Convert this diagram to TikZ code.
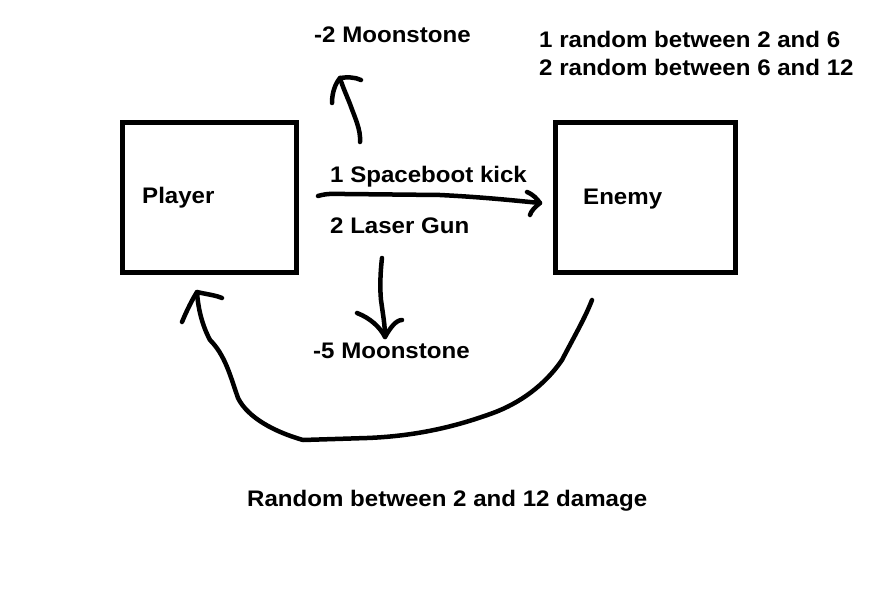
\documentclass[tikz,border=0pt]{standalone}
\usepackage{fontspec}
\newfontfamily\lblfont{Liberation Sans}[FakeStretch=1.07]
\begin{document}
\begin{tikzpicture}[x=1pt,y=-1pt,
  ink/.style={line width=4.5pt,line cap=round,line join=round,black},
  boxshape/.style={draw,line width=5pt,minimum width=174pt,minimum height=150pt,inner sep=0pt},
  lbl/.style={anchor=base west,inner sep=0pt,font=\lblfont\bfseries\fontsize{22.5}{28}\selectfont,text=black}]
\useasboundingbox (0,0) rectangle (894,605);
% boxes
\node[boxshape] (player) at (209,197) {};
\node[boxshape,minimum width=180pt] (enemy) at (645,197) {};
% texts
\node[lbl] (tplayer) at (142,203) {Player};
\node[lbl] (tenemy) at (583,204) {Enemy};
\node[lbl] (tm2) at (314,42) {-2 Moonstone};
\node[lbl] (tr1) at (539,47) {1 random between 2 and 6};
\node[lbl] (tr2) at (539,75) {2 random between 6 and 12};
\node[lbl] (tkick) at (330,182) {1 Spaceboot kick};
\node[lbl] (tgun) at (330,233) {2 Laser Gun};
\node[lbl] (tm5) at (313,358) {-5 Moonstone};
\node[lbl] (tdmg) at (247,506) {Random between 2 and 12 damage};
% connector end points
\coordinate (hs) at (318,196);
\coordinate (ht) at (540,203);
\coordinate (us) at (360,142);
\coordinate (ut) at (340,78);
\coordinate (ds) at (382,258);
\coordinate (dt) at (385,337);
\coordinate (cs) at (592,300);
\coordinate (ct) at (197,292);
% attack arrow
\draw[ink] (hs) .. controls (328,193) and (335,194) .. (345,194)
  -- (440,195) .. controls (480,197) and (510,200) .. (ht);
\draw[ink] (527,192) .. controls (534,195) and (537,199) .. (ht)
  .. controls (535,207) and (531,211) .. (530,215);
% -2 moonstone arrow
\draw[ink] (us) .. controls (361,130) and (355,118) .. (350,104)
  .. controls (346,94) and (342,85) .. (ut);
\draw[ink] (332,103) .. controls (332,93) and (335,84) .. (ut)
  .. controls (347,77) and (355,77) .. (361,80);
% -5 moonstone arrow
\draw[ink] (ds) .. controls (380,275) and (380,290) .. (381,300)
  .. controls (383,315) and (385,325) .. (dt);
\draw[ink] (357,313) .. controls (370,318) and (380,327) .. (dt)
  .. controls (390,328) and (396,320) .. (402,320);
% damage arrow
\draw[ink] (cs) .. controls (585,318) and (575,335) .. (562,360)
  .. controls (545,385) and (520,403) .. (493,413)
  .. controls (460,425) and (420,436) .. (367,438)
  -- (303,440)
  .. controls (275,432) and (248,418) .. (238,398)
  .. controls (230,375) and (225,355) .. (210,340)
  .. controls (202,325) and (198,308) .. (ct);
\draw[ink] (182,322) .. controls (187,310) and (192,300) .. (ct)
  .. controls (205,294) and (215,295) .. (222,298);
\end{tikzpicture}
\end{document}
